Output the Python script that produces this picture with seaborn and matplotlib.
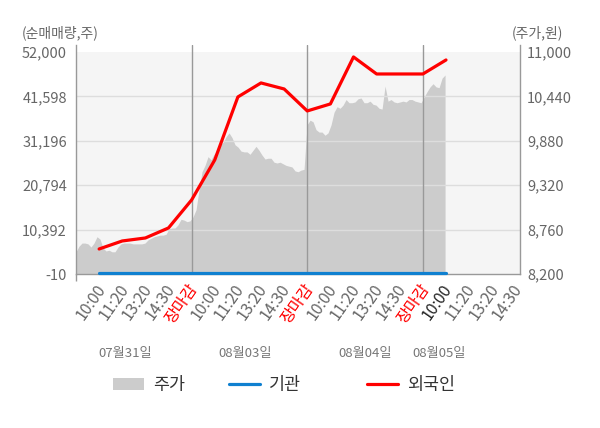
import numpy as np
import matplotlib
matplotlib.use('Agg')
import matplotlib.pyplot as plt
import matplotlib.transforms as mtransforms
from matplotlib.lines import Line2D
from matplotlib.patches import Patch
import seaborn as sns

# ---------------- data ----------------
tick_labels = ['10:00', '11:20', '13:20', '14:30', '장마감',
               '10:00', '11:20', '13:20', '14:30', '장마감',
               '10:00', '11:20', '13:20', '14:30', '장마감',
               '10:00', '11:20', '13:20', '14:30']
day_labels = ['07월31일', '08월03일', '08월04일', '08월05일']
day_label_pos = [2.13, 7.3, 12.5, 15.7]

# 외국인 net buying (left axis), one point per tick slot 1..16
foreign = [5850, 7730, 8430, 10780, 17340, 26710, 41470, 44750,
           43340, 38190, 39830, 50840, 46850, 46850, 46850, 50130]
# 기관 net buying (left axis)
institution = [300] * 16

# 주가 (right axis), intraday price
price = [8480, 8550, 8590, 8590, 8580, 8540, 8590, 8670, 8640, 8530,
         8490, 8500, 8480, 8480, 8540, 8580, 8590, 8590, 8590, 8580,
         8580, 8580, 8580, 8590, 8630, 8650, 8670, 8680, 8690, 8690,
         8700, 8770, 8780, 8780, 8820, 8890, 8880, 8860, 8870, 8920,
         9010, 9260, 9490, 9570, 9680, 9640, 9710, 9750, 9830, 9860,
         9930, 9980, 9920, 9830, 9800, 9750, 9740, 9740, 9710, 9760,
         9810, 9760, 9700, 9650, 9660, 9660, 9610, 9600, 9610, 9590,
         9570, 9560, 9550, 9500, 9490, 9510, 9520, 10080, 10140, 10120,
         10020, 9990, 9990, 9950, 9980, 10080, 10240, 10310, 10290, 10330,
         10400, 10360, 10360, 10370, 10410, 10420, 10360, 10360, 10380, 10340,
         10330, 10290, 10280, 10570, 10380, 10400, 10370, 10360, 10370, 10380,
         10370, 10400, 10400, 10380, 10370, 10360, 10430, 10500, 10560, 10600,
         10560, 10550, 10670, 10710]

left_ticks = [-10, 10392, 20794, 31196, 41598, 52000]
right_ticks = [8200, 8760, 9320, 9880, 10440, 11000]

# ---------------- style ----------------
sns.set_theme(style='white')
plt.rcParams['font.family'] = ['Noto Sans CJK KR', 'DejaVu Sans']

GRAY_TXT = '#666666'
LINE_GRAY = '#999999'

fig = plt.figure(figsize=(6, 4.28), dpi=100)
ax = fig.add_axes([76 / 600, 1 - 274 / 428, 444 / 600, 229 / 428])
ax2 = ax.twinx()
ax.set_zorder(ax2.get_zorder() + 1)
ax.patch.set_visible(False)
ax2.set_facecolor('white')

xmax = 19.2
slot_x = np.arange(1, len(foreign) + 1)
price_x = np.linspace(0, 15.96, len(price))

# price area on the right axis
ax2.set_ylim(8200, 11000 + 7 / 222 * 2800)
ax2.axhspan(8200, 11000, color='#f5f5f5', lw=0, zorder=0)
ax2.fill_between(price_x, price, 8200, color='#cccccc', lw=0, zorder=1)
ax2.set_yticks(right_ticks)
ax2.set_yticklabels([f'{v:,}' for v in right_ticks])
ax2.tick_params(axis='y', length=0, pad=5, labelsize=10.5, labelcolor=GRAY_TXT)
for s in ax2.spines.values():
    s.set_visible(False)

# left axis
ax.set_xlim(0, xmax)
ax.set_ylim(-10, 52000 + 7 / 222 * 52010)
for v in left_ticks[1:-1]:
    ax.axhline(v, color='#dddddd', lw=1, zorder=0.5)
for v in [5, 10, 15]:
    ax.axvline(v, color=LINE_GRAY, lw=1, zorder=0.6)

sns.lineplot(x=slot_x, y=institution, ax=ax, color='#0f80d0', lw=2.3,
             legend=False, zorder=3, clip_on=False)
sns.lineplot(x=slot_x, y=foreign, ax=ax, color='#ff0000', lw=2.3,
             legend=False, zorder=4)
ax.set_xlabel('')
ax.set_ylabel('')

ax.set_yticks(left_ticks)
ax.set_yticklabels([f'{v:,}' for v in left_ticks])
ax.tick_params(axis='y', length=0, pad=6.5, labelsize=10.5, labelcolor=GRAY_TXT)

ax.set_xticks(np.arange(1, len(tick_labels) + 1))
ax.set_xticklabels(tick_labels, rotation=55, ha='right', va='top',
                   rotation_mode='anchor')
ax.set_xticks([0, 5, 10, 15], minor=True)
ax.tick_params(axis='x', which='major', length=0, pad=5, labelsize=11.5)
ax.tick_params(axis='x', which='minor', bottom=True, length=5, width=1,
               color=LINE_GRAY)
shift = mtransforms.ScaledTranslation(-4 / 100, 0, fig.dpi_scale_trans)
for i, lab in enumerate(ax.get_xticklabels()):
    t = lab.get_text()
    if t == '장마감':
        lab.set_color('#ff0000')
    elif i == 15:
        lab.set_color('#222222')
    else:
        lab.set_color(GRAY_TXT)
    lab.set_transform(lab.get_transform() + shift)

for side in ['left', 'right', 'bottom']:
    ax.spines[side].set_visible(True)
    ax.spines[side].set_color(LINE_GRAY)
    ax.spines[side].set_linewidth(1)
ax.spines['top'].set_visible(False)

# date labels under the time ticks
trans = mtransforms.blended_transform_factory(ax.transData, ax.transAxes)
for pos, lab in zip(day_label_pos, day_labels):
    ax.text(pos, -(353 - 274) / 229, lab, transform=trans, ha='center',
            va='center', fontsize=9.5, color='#777777')

# axis titles
fig.text(22 / 600, 1 - 33 / 428, '(순매매량,주)', ha='left', va='center',
         fontsize=10, color=GRAY_TXT)
fig.text(563 / 600, 1 - 33 / 428, '(주가,원)', ha='right', va='center',
         fontsize=10, color=GRAY_TXT)

# legend
items = [
    (Patch(facecolor='#cccccc', edgecolor='none'), '주가', 113),
    (Line2D([], [], color='#0f80d0', lw=2.3), '기관', 229),
    (Line2D([], [], color='#ff0000', lw=2.3), '외국인', 367),
]
for h, lab, xpx in items:
    leg = fig.legend(handles=[h], labels=[lab], loc='center left',
                     bbox_to_anchor=(xpx / 600, 1 - 385 / 428), frameon=False,
                     borderpad=0, borderaxespad=0, handlelength=1.8,
                     handletextpad=0.5, fontsize=12.5)
    for t in leg.get_texts():
        t.set_color('#333333')

fig.savefig('out.png', dpi=100, facecolor='white')
